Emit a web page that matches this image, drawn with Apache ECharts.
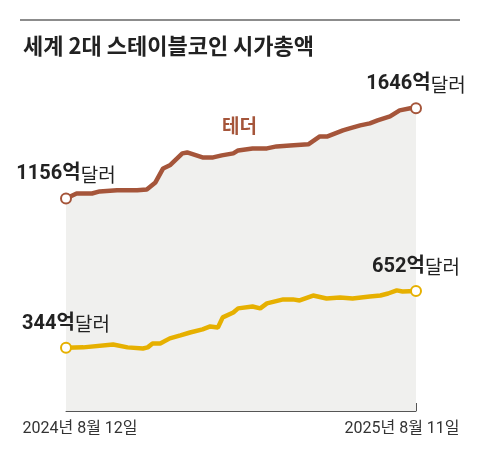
<!DOCTYPE html>
<html><head><meta charset="utf-8">
<script src="https://cdn.jsdelivr.net/npm/echarts@6/dist/echarts.min.js"></script>
<style>html,body{margin:0;padding:0;background:#fff}#c{width:480px;height:460px}</style>
</head><body><div id="c"></div>
<script>
// x ticks (start / end dates)
const tickLabels = ['2024년 8월 12일', '2025년 8월 11일'];
const totalDays = 364;
// days since 2024-08-12
const tetherDays   = [0, 11, 27, 35, 53, 74, 84, 93, 101, 108, 121, 126, 142, 153, 162, 174, 179, 194, 209, 219, 233, 252, 264, 272, 288, 295, 306, 316, 324, 337, 347, 358, 364];
const tetherValues = [1156, 1183, 1183, 1194, 1200, 1200, 1205, 1243, 1319, 1336, 1401, 1406, 1379, 1379, 1390, 1401, 1417, 1428, 1428, 1439, 1444, 1450, 1493, 1493, 1526, 1537, 1553, 1564, 1580, 1602, 1635, 1646, 1646];
const usdcDays   = [0, 18, 49, 64, 80, 85, 90, 98, 108, 119, 129, 142, 150, 158, 163, 174, 179, 194, 202, 209, 226, 236, 243, 257, 271, 285, 298, 316, 327, 335, 344, 350, 364];
const usdcValues = [344, 346, 362, 346, 340, 346, 367, 367, 395, 411, 427, 444, 460, 454, 509, 536, 558, 568, 558, 585, 607, 607, 601, 628, 612, 617, 612, 623, 628, 639, 656, 650, 652];
const seriesNames = ['테더', 'USDC'];

const TETHER = '#a5553a', USDC = '#e6b000';
const NUMFONT = '"Roboto","Noto Sans CJK KR",sans-serif';
const KFONT = '"Noto Sans CJK KR",sans-serif';

function build(days, vals) {
  return days.map((d, i) => {
    const item = { value: [d, vals[i]] };
    if (i === 0 || i === days.length - 1) {
      item.symbolSize = 10;
      item.label = {
        show: true, position: 'top', distance: 8,
        formatter: p => '{b|' + p.value[1] + '억}{n|달러}',
        rich: {
          b: { fontFamily: NUMFONT, fontWeight: 'bold', fontSize: 20, color: '#222' },
          n: { fontFamily: KFONT, fontSize: 19, color: '#222' }
        }
      };
    } else {
      item.symbolSize = 0;
    }
    return item;
  });
}

const chart = echarts.init(document.getElementById('c'), null, { renderer: 'canvas' });
chart.setOption({
  animation: false,
  backgroundColor: '#fff',
  title: {
    text: '세계 2대 스테이블코인 시가총액', left: 18, top: 30,
    textStyle: { fontFamily: KFONT, fontWeight: 'bold', fontSize: 22, color: '#222' }
  },
  graphic: [
    { type: 'line', shape: { x1: 20, y1: 20, x2: 460, y2: 20 }, style: { stroke: '#8c8c8c', lineWidth: 2 } },
    { type: 'text', left: 222, top: 116, style: { text: seriesNames[0], font: 'bold 19px ' + KFONT, fill: TETHER } },
    { type: 'text', left: 212, top: 273, style: { text: seriesNames[1], font: '19px ' + NUMFONT, fill: USDC } }
  ],
  grid: { left: 66, right: 64, top: 80, bottom: 49 },
  xAxis: {
    type: 'value', min: 0, max: totalDays, interval: totalDays,
    axisLine: { show: true, lineStyle: { color: '#555', width: 1 } },
    axisTick: { show: true, inside: true, length: 8, lineStyle: { color: '#555' } },
    splitLine: { show: false },
    axisLabel: {
      margin: 10,
      formatter: v => v === 0 ? '{l|' + tickLabels[0] + '}' : '{r|' + tickLabels[1] + '}',
      rich: {
        l: { fontFamily: NUMFONT, fontSize: 16, color: '#333', padding: [0, 0, 0, 28] },
        r: { fontFamily: NUMFONT, fontSize: 16, color: '#333', padding: [0, 28, 0, 0] }
      }
    }
  },
  yAxis: { type: 'value', min: 0, max: 1800, show: false, splitLine: { show: false } },
  series: [
    {
      name: seriesNames[0], type: 'line', data: build(tetherDays, tetherValues),
      symbol: 'circle', showAllSymbol: true,
      lineStyle: { color: TETHER, width: 4.5 },
      itemStyle: { color: '#fff', borderColor: TETHER, borderWidth: 2 },
      areaStyle: { color: '#f0f0ee', opacity: 1, origin: 'start' },
      z: 2
    },
    {
      name: seriesNames[1], type: 'line', data: build(usdcDays, usdcValues),
      symbol: 'circle', showAllSymbol: true,
      lineStyle: { color: USDC, width: 4.5 },
      itemStyle: { color: '#fff', borderColor: USDC, borderWidth: 2 },
      z: 3
    }
  ]
});
</script></body></html>
